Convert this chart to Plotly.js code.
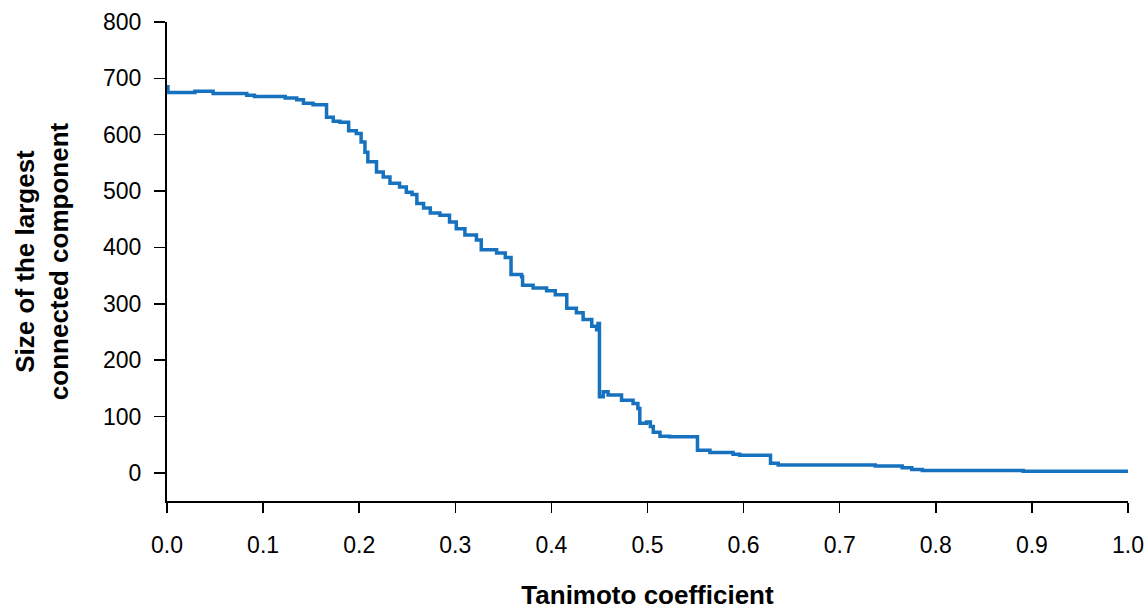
<!DOCTYPE html>
<html>
<head>
<meta charset="utf-8">
<script src="https://cdn.plot.ly/plotly-3.0.1.min.js"></script>
<style>
  html, body { margin: 0; padding: 0; background: #ffffff; }
  #chart { width: 1146px; height: 610px; }
</style>
</head>
<body>
<div id="chart"></div>
<script>
// Tanimoto coefficient threshold (step start positions)
const tanimoto = [
  0.000, 0.001, 0.029, 0.048, 0.083, 0.091, 0.123, 0.135, 0.142, 0.152,
  0.166, 0.173, 0.180, 0.189, 0.197, 0.202, 0.206, 0.209, 0.218, 0.225,
  0.232, 0.242, 0.249, 0.255, 0.260, 0.267, 0.274, 0.284, 0.294, 0.301,
  0.310, 0.322, 0.327, 0.343, 0.352, 0.358, 0.369, 0.370, 0.381, 0.395,
  0.404, 0.416, 0.426, 0.433, 0.442, 0.447, 0.4485, 0.450, 0.454, 0.459,
  0.473, 0.485, 0.490, 0.492, 0.499, 0.503, 0.506, 0.513, 0.523, 0.552,
  0.565, 0.589, 0.596, 0.628, 0.636, 0.737, 0.765, 0.775, 0.786, 0.891,
  1.000
];
// Size of the largest connected component at each step
const componentSize = [
  685, 675, 677, 673, 670, 668, 665, 662, 656, 653,
  631, 624, 622, 607, 602, 587, 569, 552, 534, 525,
  514, 507, 498, 494, 478, 470, 461, 457, 445, 433,
  422, 413, 396, 390, 382, 352, 348, 333, 328, 323,
  316, 292, 284, 272, 260, 254, 265, 135, 144, 138,
  129, 123, 114, 88, 90, 82, 72, 65, 64, 40,
  36, 33, 31, 17, 14, 12, 9, 6, 4, 3,
  2
];
const xTickVals = [0, 0.1, 0.2, 0.3, 0.4, 0.5, 0.6, 0.7, 0.8, 0.9, 1.0];
const xTickText = ["0.0", "0.1", "0.2", "0.3", "0.4", "0.5", "0.6", "0.7", "0.8", "0.9", "1.0"];
const yTickVals = [0, 100, 200, 300, 400, 500, 600, 700, 800];

const trace = {
  x: tanimoto,
  y: componentSize,
  type: 'scatter',
  mode: 'lines',
  line: { shape: 'hv', color: '#1672be', width: 3.5 },
  hoverinfo: 'x+y'
};

const layout = {
  width: 1146,
  height: 610,
  margin: { l: 167, r: 18, t: 22, b: 109 },
  paper_bgcolor: '#ffffff',
  plot_bgcolor: '#ffffff',
  showlegend: false,
  font: { family: 'Liberation Sans, Arial, sans-serif', size: 23, color: '#000000' },
  xaxis: {
    range: [0, 1.0],
    tickvals: xTickVals,
    ticktext: xTickText,
    showgrid: false,
    zeroline: false,
    showline: true,
    linecolor: '#000000',
    linewidth: 2,
    ticks: 'outside',
    ticklen: 10,
    tickwidth: 1.5,
    tickcolor: '#000000',
    ticklabelstandoff: 12,
    tickfont: { size: 23 },
    title: {
      text: '<b>Tanimoto coefficient</b>',
      font: { size: 26 },
      standoff: 32
    }
  },
  yaxis: {
    range: [-50, 800],
    tickvals: yTickVals,
    showgrid: false,
    zeroline: false,
    showline: true,
    linecolor: '#000000',
    linewidth: 2,
    ticks: 'outside',
    ticklen: 11,
    tickwidth: 1.5,
    tickcolor: '#000000',
    ticklabelstandoff: 8,
    tickfont: { size: 23 },
    title: {
      text: '<b>Size of the largest<br>connected component</b>',
      font: { size: 26 },
      standoff: 27
    }
  }
};

Plotly.newPlot('chart', [trace], layout, { displayModeBar: false, staticPlot: true });
</script>
</body>
</html>
